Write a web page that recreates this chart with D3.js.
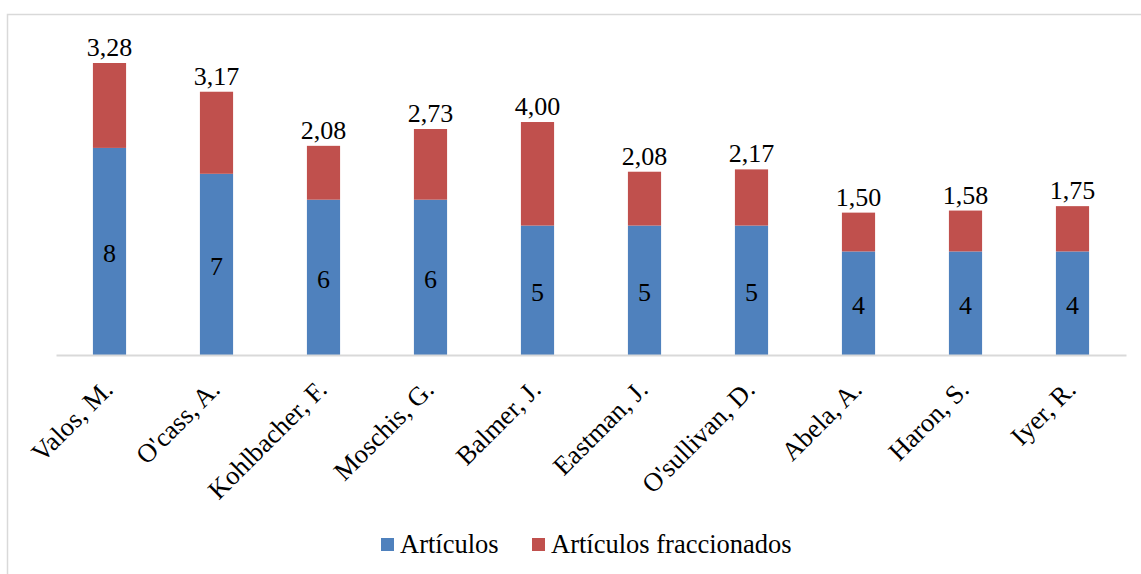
<!DOCTYPE html>
<html><head><meta charset="utf-8">
<script src="https://cdn.jsdelivr.net/npm/d3@7"></script>
<style>body{margin:0;background:#fff}svg{display:block}</style>
</head><body>
<svg id="c" width="1141" height="574"></svg>
<script>
const categories = ["Valos, M.","O'cass, A.","Kohlbacher, F.","Moschis, G.","Balmer, J.","Eastman, J.","O'sullivan, D.","Abela, A.","Haron, S.","Iyer, R."];
const articulos = [8,7,6,6,5,5,5,4,4,4];
const fraccionados = [3.28,3.17,2.08,2.73,4.00,2.08,2.17,1.50,1.58,1.75];
const seriesNames = ["Artículos","Artículos fraccionados"];
const colors = ["#4F81BD","#C0504D"];
const FONT = "Liberation Serif";

const svg = d3.select("#c");
svg.append("rect").attr("x",7.5).attr("y",14.5).attr("width",1150).attr("height",600)
  .attr("fill","none").attr("stroke","#d9d9d9").attr("stroke-width",1.5);

const x = d3.scaleBand().domain(categories).range([56,1126]).paddingInner(0.69).paddingOuter(0.345);
const y = d3.scaleLinear().domain([0,11.28]).range([355,63]);

const rows = categories.map((c,i)=>({cat:c, a:articulos[i], f:fraccionados[i]}));
const stack = d3.stack().keys(["a","f"])(rows);

const g = svg.append("g");
stack.forEach((layer,li)=>{
  g.selectAll(null).data(layer).enter().append("rect")
    .attr("x",d=>x(d.data.cat)).attr("width",x.bandwidth())
    .attr("y",d=>y(d[1])).attr("height",d=>y(d[0])-y(d[1]))
    .attr("fill",colors[li]);
});

// baseline axis
const ax = svg.append("g").attr("transform","translate(0,"+y(0)+")")
  .call(d3.axisBottom(x).tickSize(0).tickFormat(""));
ax.select(".domain").attr("stroke","#d9d9d9").attr("stroke-width",2);

const txt = sel => sel.attr("font-family",FONT).attr("fill","#000");

// inside labels
g.selectAll(null).data(stack[0]).enter().append("text").call(txt)
  .attr("x",d=>x(d.data.cat)+x.bandwidth()/2)
  .attr("y",d=>(y(d[0])+y(d[1]))/2).attr("dy","0.42em")
  .attr("text-anchor","middle").attr("font-size",26)
  .text(d=>d.data.a);

// top labels
const fmt = v=>v.toFixed(2).replace(".",",");
g.selectAll(null).data(stack[1]).enter().append("text").call(txt)
  .attr("x",d=>x(d.data.cat)+x.bandwidth()/2)
  .attr("y",d=>y(d[1])-7)
  .attr("text-anchor","middle").attr("font-size",26)
  .text(d=>fmt(d.data.f));

// category labels
svg.append("g").selectAll(null).data(categories).enter().append("text").call(txt)
  .attr("transform",d=>"translate("+(x(d)+x.bandwidth()/2+5)+",391) rotate(-45)")
  .attr("text-anchor","end").attr("font-size",26.5)
  .text(d=>d);

// legend
const leg = svg.append("g");
const legX = [381,532];
seriesNames.forEach((n,i)=>{
  leg.append("rect").attr("x",legX[i]).attr("y",538).attr("width",13).attr("height",13).attr("fill",colors[i]);
  leg.append("text").call(txt).attr("x",legX[i]+19).attr("y",553).attr("font-size",26.5).text(n);
});
</script>
</body></html>
